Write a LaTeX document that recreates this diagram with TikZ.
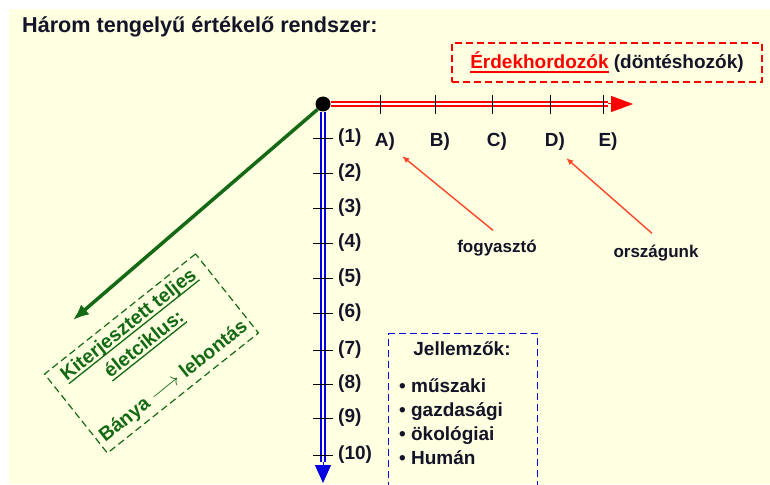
\documentclass[tikz,border=0pt]{standalone}
\usepackage{fontspec}
\setmainfont{Liberation Sans}
\usetikzlibrary{arrows.meta, positioning, calc}
\definecolor{bgyellow}{RGB}{255, 255, 225}
\definecolor{axisred}{RGB}{255, 0, 0}
\definecolor{axisblue}{RGB}{0, 0, 225}
\definecolor{lifegreen}{RGB}{20, 105, 20}
\definecolor{noteorange}{RGB}{255, 70, 40}
\definecolor{txtdark}{RGB}{20, 20, 40}
\newcommand{\thul}[1]{\leavevmode\setbox0=\hbox{#1}\dp0=0pt\vtop{\box0\kern2.5pt\hrule height 1.3pt}}

\begin{document}
\begin{tikzpicture}[x=1pt, y=-1pt,
  lbl/.style={font=\fontsize{19}{24}\selectfont\bfseries, text=txtdark, inner sep=1pt},
  tick/.style={black, line width=0.9pt},
  raxis/.style={draw=axisred, double=white, line width=1.6pt, double distance=2.2pt},
  baxis/.style={draw=axisblue, double=white, line width=1.6pt, double distance=2.2pt},
  note/.style={-{Latex[length=7pt, width=6pt]}, noteorange, line width=1.4pt},
  dbox/.style={draw, dash pattern=on 7pt off 4pt, line width=1.2pt}
]
  \useasboundingbox (0,0) rectangle (770,484);
  \fill[bgyellow] (9,9) rectangle (770,484);

  \node[lbl, anchor=base west, font=\fontsize{21.6}{24}\selectfont\bfseries] (title) at (21,33) {Három tengelyű értékelő rendszer:};

  % three axes
  \node[circle, fill=black, inner sep=0pt, minimum size=15pt] (O) at (323,104) {};
  \coordinate (Rtip) at (608,104);
  \coordinate (Rend) at (633,104);
  \coordinate (Btip) at (323,462);
  \coordinate (Bend) at (323,483);
  \coordinate (Gend) at (73,320);

  \draw[raxis] (O.east) -- (Rtip);
  \draw[-{Triangle[length=22pt, width=16pt]}, axisred, line width=1pt] (Rtip) -- (Rend);
  \draw[baxis] (O.south) -- (Btip);
  \draw[-{Triangle[length=18pt, width=16pt]}, axisblue, line width=1pt] (Btip) -- (Bend);
  \draw[-{Latex[length=16pt, width=13pt]}, lifegreen, line width=3.5pt] (O.south west) -- (Gend);

  \foreach \x/\n in {380/A, 435/B, 492/C, 550/D, 603/E} {
    \draw[tick] (\x,95) -- (\x,114);
    \node[lbl, anchor=base] (h\n) at (\x+5,146) {\n)};
  }
  \foreach \y [count=\i] in {138,173,208,243,278,313,350,384,418,455} {
    \draw[tick] (313,\y) -- (333,\y);
    \node[lbl, anchor=west] (v\i) at (337,\y) {(\i)};
  }

  \node[lbl, dbox, draw=axisred, minimum width=310pt, minimum height=39pt] (erdek) at (607,62.5)
    {\textcolor{axisred}{\thul{Érdekhordozók}} (döntéshozók)};

  \node[lbl, anchor=base, font=\fontsize{17}{20}\selectfont\bfseries] (fogy) at (497,252) {fogyasztó};
  \node[lbl, anchor=base, font=\fontsize{17}{20}\selectfont\bfseries] (orszag) at (656,257) {országunk};
  \draw[note] ($(fogy.north)+(-4,-8)$) -- ($(hA.south east)+(6,5)$);
  \draw[note] ($(orszag.north)+(-4,-10)$) -- ($(hD.south east)+(0,7)$);

  \node[lbl, dbox, draw=lifegreen, text=lifegreen, rotate=38.5, align=center, minimum width=193pt, minimum height=101pt,
        font=\fontsize{19.5}{25}\selectfont\bfseries] (cycle) at (151.5,353.5)
    {\thul{Kiterjesztett teljes}\\\thul{életciklus:}\\[22pt]Bánya $\longrightarrow$ lebontás};

  \node[dbox, draw=axisblue, anchor=north west, minimum width=149pt, minimum height=170pt] (jell) at (388,333) {};
  \node[lbl, anchor=base] (jtitle) at (462,355) {Jellemzők:};
  \node[lbl, anchor=north west, align=left] (jlist) at (398,378) {• műszaki\\• gazdasági\\• ökológiai\\• Humán};
\end{tikzpicture}
\end{document}
